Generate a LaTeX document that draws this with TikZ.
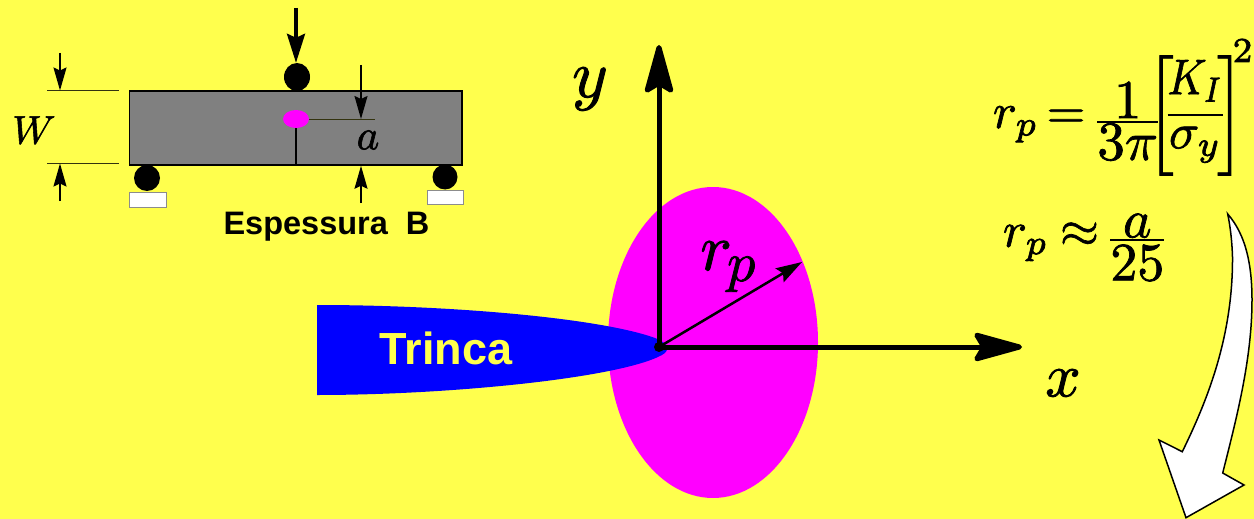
\documentclass[tikz,border=0pt]{standalone}
\usepackage{fontspec}
\newfontfamily\labelfont{Liberation Sans}[BoldFont={Liberation Sans Bold}]
\usetikzlibrary{arrows.meta,calc,shapes.geometric}
\definecolor{bgyellow}{HTML}{FFFF4D}
\definecolor{beamgray}{HTML}{808080}
\definecolor{zonemagenta}{HTML}{FF00FF}
\definecolor{crackblue}{HTML}{0000FF}
\newcommand{\heavytext}[2][0.14]{\special{pdf:code 2 Tr #1 w}#2\special{pdf:code 0 Tr}}
\tikzset{
  x=1pt,y=-1pt,
  ball/.style={circle,fill=black,inner sep=0pt,minimum size=26pt},
  seat/.style={fill=white,draw=black!45,line width=1pt},
  thinline/.style={draw=black!80!bgyellow,line width=1pt},
  dimarrow/.style={line width=1.5pt,-{Stealth[length=23pt,width=13pt,inset=3pt]}},
  axisarrow/.style={line width=5pt,-{Stealth[length=57pt,width=31pt,inset=9pt,round]}},
  formula/.style={inner sep=0pt,text=black},
}
\begin{document}
\begin{tikzpicture}
\useasboundingbox (0,0) rectangle (1254,519);
\fill[bgyellow] (0,0) rectangle (1254,519);

% ---- plastic zone and crack
\node[ellipse,fill=zonemagenta,inner sep=0pt,minimum width=210pt,minimum height=311pt] (zone) at (713,342.5) {};
\fill[crackblue] (317,305) .. controls (450,305) and (600,318) .. (655,338)
  .. controls (668,343) and (671,350) .. (662,355)
  .. controls (620,378) and (450,395) .. (317,395) -- cycle;
\node[formula,text=bgyellow,font=\labelfont\bfseries\fontsize{45}{45}\selectfont] (trinca) at (446,348) {Trinca};

% ---- axes
\coordinate (origin) at (659,347);
\coordinate (ytip) at (659,45);
\coordinate (xtip) at (1022,347);
\coordinate (rtip) at (802,262);
\draw[axisarrow] (origin) -- (ytip);
\draw[axisarrow] (origin) -- (xtip);
\fill (origin) circle (5pt);
\draw[line width=2.5pt,-{Stealth[length=26pt,width=16pt,inset=4pt]}] (origin) -- (rtip);
\node[formula,scale=6.8] (ylabel) at (590,89) {\heavytext{$y$}};
\node[formula,scale=6.2] (xlabel) at (1063,383) {\heavytext{$x$}};
\node[formula,scale=6.6,anchor=base west] (rlabel) at (699,270) {\heavytext{$r$}};
\node[formula,scale=5.6,anchor=base west] (plabel) at (726,281) {\heavytext{$p$}};

% ---- beam specimen
\node[draw=black,line width=1.5pt,fill=beamgray,inner sep=0pt,minimum width=332.5pt,minimum height=74pt] (beam) at (295.75,128) {};
\node[ellipse,fill=black,inner sep=0pt,minimum width=26pt,minimum height=28pt] (topball) at (297,77) {};
\node[ball] (lball) at (147,178) {};
\node[ball,minimum size=25pt] (rball) at (445,177) {};
\node[seat,inner sep=0pt,minimum width=37pt,minimum height=15pt] (lseat) at (147.5,199.5) {};
\node[seat,inner sep=0pt,minimum width=36pt,minimum height=14pt] (rseat) at (445,197) {};
\node[ellipse,fill=zonemagenta,inner sep=0pt,minimum width=26pt,minimum height=18pt] (spot) at (296,119) {};
\draw[line width=2pt] (spot.south) -- (spot.south |- beam.south);
\coordinate (load) at (296,8);
\draw[line width=3.5pt,-{Stealth[length=29pt,width=18pt,inset=4pt]}] (load) -- (topball.north -| load);

% dimension a
\coordinate (aend) at (375,119);
\draw[thinline] (spot.east) -- (aend);
\coordinate (atop) at (361,65);
\coordinate (abot) at (361,203);
\draw[dimarrow] (atop) -- (atop |- aend);
\draw[dimarrow] (abot) -- (abot |- beam.south);
\node[formula,scale=4.3] (alabel) at (368,140) {\heavytext{$a$}};

% dimension W
\coordinate (wtl) at (47,90.5);
\coordinate (wtr) at (119,90.5);
\coordinate (wbl) at (47,163.5);
\coordinate (wbr) at (119,163.5);
\draw[thinline] (wtl) -- (wtr);
\draw[thinline] (wbl) -- (wbr);
\coordinate (wtop) at (60,53);
\coordinate (wbot) at (60,201);
\draw[dimarrow] (wtop) -- (wtop |- wtl);
\draw[dimarrow] (wbot) -- (wbot |- wbl);
\node[formula,scale=4] (wlabel) at (34,130) {\heavytext{$W$}};

\node[formula,font=\labelfont\bfseries\fontsize{32.5}{33}\selectfont] (thick) at (326.5,227) {Espessura\ \ B};

% ---- formulas
\node[formula,scale=5,anchor=base west] (f1) at (992,128) {\heavytext{$\displaystyle \nulldelimiterspace=0pt r_p\kern-1.2pt=\kern-0.4pt\raisebox{-1.5pt}{\scalebox{1.1}{$\displaystyle\frac{\smash{\raisebox{-3.6pt}{$1$}}}{\smash{\raisebox{2.45pt}{$3\pi$}}}$}}\kern-2.2pt\bigg[\kern-1.2pt\frac{\scalebox{.85}[1]{$K_I$}}{\smash{\raisebox{2.8pt}{$\sigma_y$}}}\kern-1.2pt\bigg]\kern-2.2pt\raisebox{13.2pt}{$\scriptstyle 2$}$}};
\node[formula,scale=5,anchor=base west] (f2) at (1002,246.7) {\heavytext{$\displaystyle \nulldelimiterspace=0pt r_p\kern-0.5pt\approx\kern-0.5pt\raisebox{-1.44pt}{\scalebox{1.08}{$\displaystyle\frac{\smash{\raisebox{-3.7pt}{$a$}}}{\smash{\raisebox{1.96pt}{$25$}}}$}}$}};

% ---- curved white arrow
\draw[fill=white,line width=1.5pt,line join=miter]
  (1227.7,214) .. controls (1246,235) and (1252,265) .. (1252,300)
  .. controls (1252,360) and (1236,420) .. (1222.7,473)
  -- (1244,485) -- (1186,517.7) -- (1159,440) -- (1182.3,451.7)
  .. controls (1205,405) and (1233,340) .. (1232.5,257)
  .. controls (1232,240) and (1230,225) .. cycle;
\end{tikzpicture}
\end{document}
